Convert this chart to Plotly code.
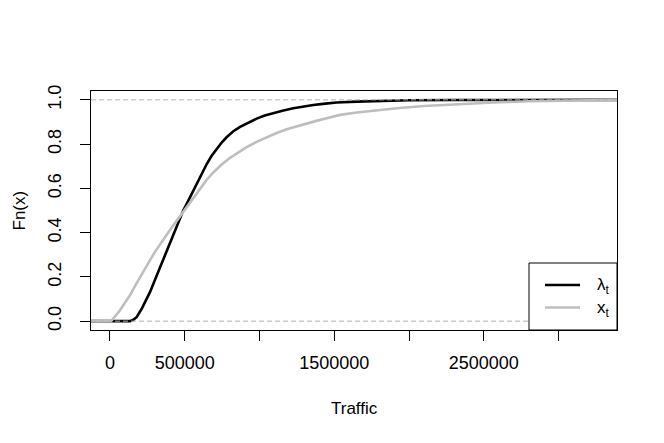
import plotly.graph_objects as go

# ECDF of lambda_t (black) and x_t (grey)
lam_x = [-127000, 134000, 156000, 178000, 212000, 240000, 268000, 295000, 323000, 350000,
         379000, 407000, 435000, 462000, 490000, 524000, 555000, 580000, 612000, 647000,
         680000, 714000, 747000, 780000, 825000, 870000, 925000, 981000, 1035000, 1092000,
         1160000, 1226000, 1290000, 1360000, 1440000, 1516000, 1650000, 1800000, 2000000,
         2300000, 2600000, 3391000]
lam_y = [0, 0, 0.006, 0.018, 0.056, 0.092, 0.132, 0.177, 0.223, 0.268,
         0.314, 0.362, 0.41, 0.456, 0.5, 0.545, 0.587, 0.622, 0.667, 0.71,
         0.747, 0.779, 0.807, 0.831, 0.858, 0.878, 0.898, 0.915, 0.929, 0.941,
         0.952, 0.962, 0.97, 0.977, 0.983, 0.988, 0.992, 0.995, 0.998,
         0.999, 1.0, 1.0]

xt_x = [-127000, 7000, 35000, 67000, 100000, 134000, 167000, 201000, 235000, 268000,
        300000, 334000, 368000, 401000, 435000, 468000, 500000, 535000, 568000, 602000,
        645000, 691000, 745000, 803000, 860000, 914000, 980000, 1048000, 1115000, 1182000,
        1250000, 1316000, 1380000, 1450000, 1539000, 1650000, 1806000, 1918000, 2100000,
        2363000, 2600000, 2809000, 3000000, 3261000, 3391000]
xt_y = [0, 0, 0.022, 0.049, 0.083, 0.117, 0.158, 0.2, 0.238, 0.276,
        0.312, 0.347, 0.38, 0.412, 0.443, 0.473, 0.503, 0.534, 0.566, 0.598,
        0.637, 0.672, 0.707, 0.738, 0.764, 0.786, 0.81, 0.832, 0.85, 0.867,
        0.881, 0.893, 0.905, 0.917, 0.932, 0.943, 0.955, 0.962, 0.972,
        0.982, 0.989, 0.994, 0.997, 1.0, 1.0]

series_names = ["λ<sub>t</sub>", "x<sub>t</sub>"]
series_colors = ["black", "#bebebe"]

x_tickvals = [0, 500000, 1500000, 2500000]
x_ticktext = ["0", "500000", "1500000", "2500000"]
x_tick_step = 500000
y_tickvals = [0, 0.2, 0.4, 0.6, 0.8, 1.0]
y_ticktext = ["0.0", "0.2", "0.4", "0.6", "0.8", "1.0"]

FONT = "Liberation Sans, Arial, Helvetica, sans-serif"

fig = go.Figure()
fig.add_trace(go.Scatter(x=lam_x, y=lam_y, mode="lines", name=series_names[0],
                         line=dict(color=series_colors[0], width=2.6)))
fig.add_trace(go.Scatter(x=xt_x, y=xt_y, mode="lines", name=series_names[1],
                         line=dict(color=series_colors[1], width=2.6)))

for h in (0, 1):
    fig.add_shape(type="line", xref="paper", x0=0, x1=1, yref="y", y0=h, y1=h,
                  line=dict(color="#b3b3b3", width=1, dash="5px,3px"), layer="above")

# legend box (bottom-right, like R legend("bottomright"))
PW, PH = 526.0, 239.0
fig.add_shape(type="rect", xref="paper", yref="paper",
              x0=1 - 88 / PW, x1=1, y0=0, y1=67 / PH,
              line=dict(color="black", width=1), fillcolor="white", layer="above")
leg_rows = [(330 - 285) / PH, (330 - 307.5) / PH]
annotations = []
for name, col, yy in zip(series_names, series_colors, leg_rows):
    fig.add_shape(type="line", xref="paper", yref="paper",
                  x0=(545 - 91) / PW, x1=(580 - 91) / PW, y0=yy, y1=yy,
                  line=dict(color=col, width=2.6), layer="above")
    annotations.append(dict(text=name, xref="paper", yref="paper", x=(595 - 91) / PW,
                            y=yy, xanchor="left", yanchor="middle", yshift=-1,
                            showarrow=False, font=dict(size=17)))

annotations += [
    dict(text="Traffic", xref="paper", yref="paper", x=0.5, y=0,
         xanchor="center", yanchor="middle", yshift=-78, showarrow=False,
         font=dict(size=17)),
    dict(text="Fn(x)", xref="paper", yref="paper", x=0, y=0.5,
         xanchor="center", yanchor="middle", xshift=-72, textangle=-90,
         showarrow=False, font=dict(size=17)),
]

fig.update_layout(
    width=656, height=435,
    margin=dict(l=83, r=47, t=83, b=113),
    paper_bgcolor="white", plot_bgcolor="white",
    font=dict(family=FONT, size=17.5, color="black"),
    showlegend=False,
    xaxis=dict(range=[-127000, 3391000], tickvals=x_tickvals, ticktext=x_ticktext,
               ticks="outside", ticklen=10, tickcolor="black", showgrid=False,
               minor=dict(ticks="outside", ticklen=10, tickcolor="black",
                          tick0=0, dtick=x_tick_step, showgrid=False),
               zeroline=False, showline=True, linecolor="black", linewidth=1,
               mirror=True, tickfont=dict(size=18), ticklabelstandoff=6),
    yaxis=dict(range=[-0.04, 1.04], tickvals=y_tickvals, ticktext=y_ticktext,
               ticks="outside", ticklen=10, tickcolor="black", showgrid=False,
               zeroline=False, showline=True, linecolor="black", linewidth=1,
               mirror=True, tickangle=-90, tickfont=dict(size=18), ticklabelstandoff=12),
    annotations=annotations,
)

fig.write_html("out.html")
